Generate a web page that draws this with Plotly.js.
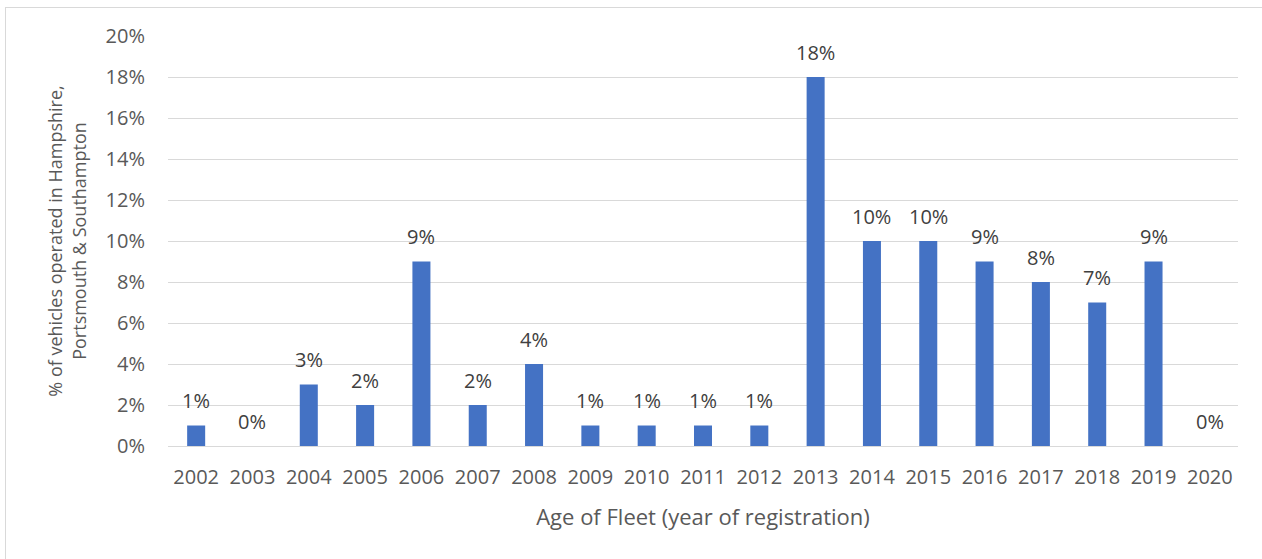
<!DOCTYPE html>
<html>
<head>
<meta charset="utf-8">
<script src="https://cdn.plot.ly/plotly-3.0.1.min.js"></script>
<style>
  html, body { margin: 0; padding: 0; background: #fff; }
  #wrap { position: relative; width: 1262px; height: 559px; overflow: hidden; }
  #chart { position: absolute; left: 0; top: 0; width: 1262px; height: 559px; }
  #frame { position: absolute; left: 5px; top: 7px; width: 1300px; height: 600px;
           border-left: 1px solid #d9d9d9; border-top: 1px solid #d9d9d9; pointer-events: none; }
</style>
</head>
<body>
<div id="wrap">
  <div id="chart"></div>
  <div id="frame"></div>
</div>
<script>
// Registration years of the fleet
const years = ['2002','2003','2004','2005','2006','2007','2008','2009','2010','2011',
               '2012','2013','2014','2015','2016','2017','2018','2019','2020'];
// Share of vehicles (%) per registration year
const sharePct = [1, 0, 3, 2, 9, 2, 4, 1, 1, 1, 1, 18, 10, 10, 9, 8, 7, 9, 0];
const yTickVals = [0, 2, 4, 6, 8, 10, 12, 14, 16, 18, 20];
const yTickText = yTickVals.map(v => v + '%');

const FONT = 'Open Sans, Noto Sans, sans-serif';
const GREY = '#595959';

const bars = {
  type: 'bar',
  x: years,
  y: sharePct,
  marker: { color: '#4472C4' },
  hoverinfo: 'skip'
};

// Value labels a fixed distance above each bar top (x is the category index)
const valueLabels = years.map((yr, i) => ({
  x: i,
  y: sharePct[i],
  xref: 'x',
  yref: 'y',
  text: sharePct[i] + '%',
  showarrow: false,
  yanchor: 'middle',
  yshift: 25,
  font: { family: FONT, size: 20, color: '#404040' }
}));

const layout = {
  width: 1262,
  height: 559,
  margin: { l: 168, r: 24, t: 36, b: 113 },
  paper_bgcolor: '#ffffff',
  plot_bgcolor: '#ffffff',
  font: { family: FONT, color: GREY, size: 20 },
  showlegend: false,
  bargap: 0.68,
  annotations: valueLabels,
  xaxis: {
    type: 'category',
    range: [-0.5, years.length - 0.5],
    showgrid: false,
    zeroline: false,
    showline: false,
    ticks: '',
    ticklabelstandoff: 17,
    tickfont: { family: FONT, size: 20, color: GREY },
    title: { text: 'Age of Fleet (year of registration)', standoff: 20,
             font: { family: FONT, size: 22, color: GREY } }
  },
  yaxis: {
    range: [0, 20],
    tickvals: yTickVals,
    ticktext: yTickText,
    showgrid: true,
    gridcolor: '#d9d9d9',
    gridwidth: 1,
    zeroline: true,
    zerolinecolor: '#d9d9d9',
    zerolinewidth: 1,
    showline: false,
    ticks: '',
    ticklabelstandoff: 22,
    tickfont: { family: FONT, size: 20, color: GREY },
    title: { text: '% of vehicles operated in Hampshire,<br>Portsmouth & Southampton', standoff: 14,
             font: { family: FONT, size: 18, color: GREY } }
  }
};

Plotly.newPlot('chart', [bars], layout, { staticPlot: true, displayModeBar: false });
</script>
</body>
</html>
